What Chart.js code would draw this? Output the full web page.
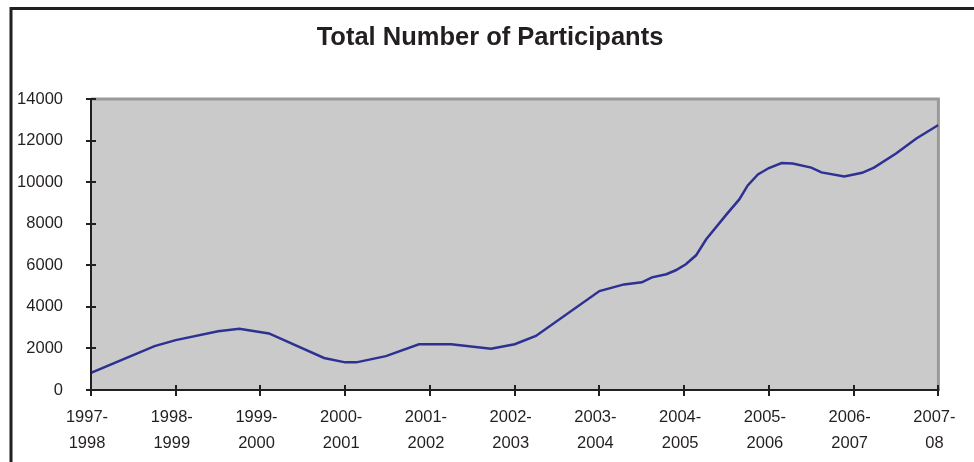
<!DOCTYPE html>
<html>
<head>
<meta charset="utf-8">
<script src="https://cdn.jsdelivr.net/npm/chart.js@4"></script>
<style>
  html, body { margin: 0; padding: 0; background: #fff; }
  #wrap { width: 974px; height: 462px; }
</style>
</head>
<body>
<div id="wrap"><canvas id="plot" width="974" height="462"></canvas></div>
<script>
// participants per season, x = years since 1997-1998
const yearOffsets = [0, 0.75, 1.0, 1.5, 1.75, 2.1, 2.75, 3.0, 3.13, 3.48, 3.87, 4.25, 4.72, 5.0, 5.25,
    6.0, 6.29, 6.5, 6.62, 6.79, 6.9, 7.02, 7.14, 7.26, 7.5, 7.65, 7.75, 7.87, 8.0, 8.15, 8.28,
    8.5, 8.62, 8.89, 9.1, 9.24, 9.5, 9.74, 10.0]
const participants = [820, 2110, 2400, 2830, 2950, 2720, 1540, 1330, 1330, 1630, 2200, 2200, 1980, 2200, 2600,
    4760, 5080, 5180, 5420, 5570, 5760, 6050, 6480, 7250, 8450, 9170, 9840, 10370, 10680, 10920, 10900,
    10700, 10470, 10270, 10450, 10700, 11380, 12100, 12750]
const seasonLabels = [
    ['1997-', '1998'], ['1998-', '1999'], ['1999-', '2000'], ['2000-', '2001'],
    ['2001-', '2002'], ['2002-', '2003'], ['2003-', '2004'], ['2004-', '2005'],
    ['2005-', '2006'], ['2006-', '2007'], ['2007-', '08']
]
const yTicks = [0, 2000, 4000, 6000, 8000, 10000, 12000, 14000]
const chartTitle = 'Total Number of Participants'

const ink = '#231f20'
const fontFamily = "Arial, 'Liberation Sans', sans-serif"

const points = yearOffsets.map((x, i) => ({ x: x, y: participants[i] }))

// outer frame, title, grey plot background, plot border and crossing tick marks
const decor = {
    id: 'decor',
    beforeDraw(chart) {
        const ctx = chart.ctx
        const a = chart.chartArea
        ctx.save()
        ctx.fillStyle = '#cacaca'
        ctx.fillRect(a.left, a.top, a.right - a.left, a.bottom - a.top)
        ctx.strokeStyle = ink
        ctx.lineWidth = 3
        ctx.beginPath()
        ctx.moveTo(11, 462)
        ctx.lineTo(11, 8.5)
        ctx.lineTo(974, 8.5)
        ctx.stroke()
        ctx.fillStyle = ink
        ctx.font = 'bold 25.5px ' + fontFamily
        ctx.textAlign = 'center'
        ctx.textBaseline = 'middle'
        ctx.fillText(chartTitle, 490, 38)
        ctx.restore()
    },
    beforeDatasetsDraw(chart) {
        const ctx = chart.ctx
        const a = chart.chartArea
        ctx.save()
        ctx.strokeStyle = '#9a9a9a'
        ctx.lineWidth = 3
        ctx.beginPath()
        ctx.moveTo(a.left, a.top)
        ctx.lineTo(a.right, a.top)
        ctx.lineTo(a.right, a.bottom)
        ctx.stroke()
        ctx.restore()
    },
    afterDraw(chart) {
        const ctx = chart.ctx
        const a = chart.chartArea
        const xs = chart.scales.x
        const ys = chart.scales.y
        ctx.save()
        ctx.strokeStyle = ink
        ctx.lineWidth = 2
        ctx.beginPath()
        ctx.moveTo(a.left, a.bottom)
        ctx.lineTo(a.right + 1, a.bottom)
        ctx.moveTo(a.left, a.top - 1)
        ctx.lineTo(a.left, a.bottom)
        ys.ticks.forEach(t => {
            const py = Math.round(ys.getPixelForValue(t.value))
            ctx.moveTo(a.left - 5, py)
            ctx.lineTo(a.left + 5, py)
        })
        xs.ticks.forEach(t => {
            const px = Math.round(xs.getPixelForValue(t.value))
            ctx.moveTo(px, a.bottom - 5)
            ctx.lineTo(px, a.bottom + 6)
        })
        ctx.stroke()
        ctx.restore()
    }
}

const config = {
    type: 'line',
    data: {
        datasets: [{
            data: points,
            borderColor: '#2e3192',
            borderWidth: 2.5,
            pointRadius: 0,
            tension: 0,
            fill: false
        }]
    },
    options: {
        responsive: false,
        animation: false,
        events: [],
        layout: { padding: { top: 99, left: 5, right: 34, bottom: 0 } },
        plugins: {
            legend: { display: false },
            tooltip: { enabled: false },
            title: { display: false }
        },
        scales: {
            x: {
                type: 'linear',
                min: 0,
                max: 10,
                afterFit(scale) { scale.height = 72 },
                afterBuildTicks(scale) {
                    scale.ticks = seasonLabels.map((_, i) => ({ value: i }))
                },
                grid: { display: false, drawTicks: false },
                border: { display: false },
                ticks: {
                    autoSkip: false,
                    maxRotation: 0,
                    padding: 14.5,
                    labelOffset: -4,
                    color: ink,
                    font: { family: fontFamily, size: 16.5, lineHeight: '26px' },
                    callback: (v, i) => seasonLabels[i]
                }
            },
            y: {
                min: 0,
                max: 14000,
                afterFit(scale) { scale.width = 86 },
                afterBuildTicks(scale) {
                    scale.ticks = yTicks.map(v => ({ value: v }))
                },
                grid: { display: false, drawTicks: false },
                border: { display: false },
                ticks: {
                    padding: 28,
                    color: ink,
                    font: { family: fontFamily, size: 16.5 },
                    callback: v => String(v)
                }
            }
        }
    },
    plugins: [decor]
}

const myChart = new Chart(document.getElementById('plot'), config)
</script>
</body>
</html>
